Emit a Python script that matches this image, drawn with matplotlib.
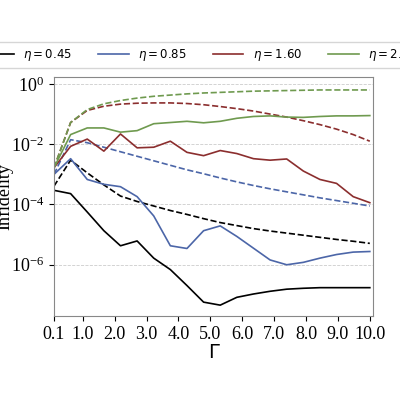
import numpy as np
import matplotlib
matplotlib.use("Agg")
import matplotlib.pyplot as plt

gamma = np.linspace(0.1, 10.0, 20)
labels = [r"$\eta = 0.45$", r"$\eta = 0.85$", r"$\eta = 1.60$", r"$\eta = 2.35$"]
colors = ["black", "#4c66a8", "#8b2e2e", "#6f9a4f"]
solid_log = [
    [-3.53,-3.64,-4.25,-4.87,-5.37,-5.21,-5.78,-6.16,-6.69,-7.24,-7.34,-7.08,-6.97,-6.88,-6.81,-6.78,-6.76,-6.76,-6.76,-6.76],
    [-3.0,-2.48,-3.17,-3.33,-3.41,-3.74,-4.38,-5.37,-5.46,-4.87,-4.71,-5.06,-5.45,-5.84,-6.0,-5.92,-5.78,-5.66,-5.58,-5.56],
    [-2.78,-2.07,-1.83,-2.23,-1.66,-2.12,-2.1,-1.9,-2.27,-2.38,-2.21,-2.31,-2.48,-2.53,-2.49,-2.89,-3.17,-3.3,-3.74,-3.94],
    [-2.78,-1.68,-1.46,-1.46,-1.6,-1.55,-1.32,-1.28,-1.24,-1.29,-1.24,-1.14,-1.08,-1.06,-1.1,-1.11,-1.08,-1.06,-1.06,-1.05],
]
dashed_log = [
    [-3.39,-2.53,-2.95,-3.35,-3.72,-3.9,-4.05,-4.2,-4.33,-4.47,-4.6,-4.7,-4.8,-4.88,-4.95,-5.02,-5.09,-5.16,-5.22,-5.29],
    [-3.0,-1.85,-1.95,-2.1,-2.25,-2.4,-2.55,-2.7,-2.85,-2.98,-3.12,-3.25,-3.37,-3.48,-3.58,-3.68,-3.78,-3.87,-3.96,-4.05],
    [-2.78,-1.28,-0.88,-0.74,-0.67,-0.64,-0.63,-0.63,-0.65,-0.69,-0.75,-0.82,-0.9,-1.0,-1.1,-1.22,-1.35,-1.5,-1.68,-1.9],
    [-2.78,-1.28,-0.85,-0.66,-0.55,-0.47,-0.41,-0.37,-0.33,-0.3,-0.28,-0.26,-0.24,-0.23,-0.22,-0.21,-0.2,-0.2,-0.2,-0.2],
]
xticks = [0.1,1,2,3,4,5,6,7,8,9,10]
xticklabels = ["0.1","1.0","2.0","3.0","4.0","5.0","6.0","7.0","8.0","9.0","10.0"]

fig = plt.figure(figsize=(4, 4), dpi=100)
ax = fig.add_axes([0.135, 0.21, 0.7975, 0.5975])
for s, d, c, l in zip(solid_log, dashed_log, colors, labels):
    ax.plot(gamma, 10**np.array(s), color=c, lw=1.2, label=l)
    ax.plot(gamma, 10**np.array(d), color=c, lw=1.2, ls="--")
ax.set_yscale("log")
ax.set_ylim(10**-7.7, 10**0.23)
ax.set_xlim(0.1, 10.1)
ax.set_xticks(xticks)
ax.set_xticklabels(xticklabels, family="Liberation Serif", fontsize=13)
ax.set_yticks([1, 1e-2, 1e-4, 1e-6])
ax.minorticks_off()
for t in ax.get_yticklabels():
    t.set_family("Liberation Serif"); t.set_fontsize(13)
ax.grid(axis="y", ls="--", color="#cccccc", lw=0.6)
for sp in ax.spines.values():
    sp.set_color("#888888")
ax.set_ylabel("Infidelity", family="Liberation Serif", fontsize=13, labelpad=-2)
ax.set_xlabel("Γ", fontsize=14, labelpad=0)
fig.legend(loc="center", bbox_to_anchor=(0.5, 0.863), ncol=4, fontsize=8.5,
           handlelength=2.6, columnspacing=2.2, frameon=True, edgecolor="#cccccc")
fig.savefig("out.png", dpi=100)
